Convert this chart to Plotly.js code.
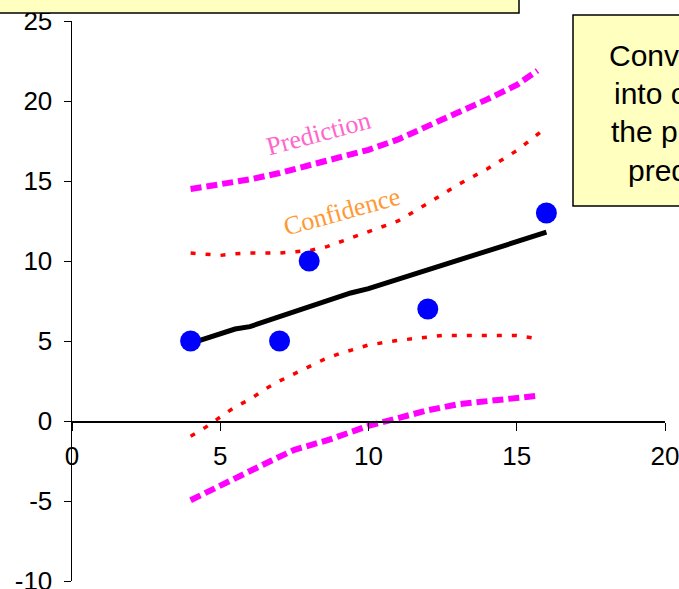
<!DOCTYPE html>
<html>
<head>
<meta charset="utf-8">
<script src="https://cdn.plot.ly/plotly-3.0.1.min.js"></script>
<style>html,body{margin:0;padding:0;background:#fff;}#chart{width:679px;height:589px;}</style>
</head>
<body>
<div id="chart"></div>
<script>
// ---- data ----
const pointX = [4, 7, 8, 12, 16];
const pointY = [5, 5, 10, 7, 13];

const fitX = [4, 5.5, 6, 9.4, 10, 14, 14.5, 16];
const fitY = [4.85, 5.75, 5.9, 8.0, 8.27, 10.65, 10.92, 11.8];

const confUpperX = [4, 5, 5.5, 6, 7, 8, 8.6, 9.5, 10, 11, 12, 13, 14, 15, 15.9];
const confUpperY = [10.5, 10.35, 10.45, 10.5, 10.5, 10.65, 10.9, 11.5, 11.8, 12.5, 13.6, 14.75, 15.75, 16.9, 18.2];

const confLowerX = [4, 4.5, 5, 5.5, 6, 6.5, 7, 7.5, 8, 8.5, 9, 9.5, 10, 11, 12, 12.5, 15, 15.6];
const confLowerY = [-0.95, -0.4, 0.25, 0.88, 1.35, 1.98, 2.5, 2.96, 3.44, 3.85, 4.2, 4.48, 4.75, 5.04, 5.27, 5.35, 5.35, 5.17];

const predUpperX = [4, 5, 6, 7, 8, 9, 10, 11, 12, 13, 14, 15, 15.7];
const predUpperY = [14.5, 14.8, 15.1, 15.5, 16.0, 16.45, 16.95, 17.6, 18.4, 19.3, 20.1, 21.0, 21.9];

const predLowerX = [4, 5.5, 6.7, 7.5, 8.7, 10, 11, 12, 13, 14.5, 15, 15.7];
const predLowerY = [-4.95, -3.55, -2.5, -1.8, -1.15, -0.3, 0.2, 0.67, 1.04, 1.35, 1.5, 1.58];

const xTickVals = [0, 5, 10, 15, 20];
const yTickVals = [-10, -5, 0, 5, 10, 15, 20, 25];

const bandLabels = ["Prediction", "Confidence"];
const noteLines = ["Converting the width", "into confidence for", "the prediction of the", "predicted values"];
// ----------------------------------------------

const W = 679, H = 589;
const M = {l: 72, r: 14, t: 21, b: 8};
const PW = W - M.l - M.r, PH = H - M.t - M.b;
const px = v => (v - M.l) / PW;
const py = v => (H - M.b - v) / PH;

const sansFont = "Arial, 'Liberation Sans', sans-serif";
const serifFont = "'Times New Roman', 'Liberation Serif', serif";

const traces = [
  {x: predUpperX, y: predUpperY, mode: 'lines', line: {color: '#FF00FF', width: 6, dash: '11px,5px'}, hoverinfo: 'skip'},
  {x: predLowerX, y: predLowerY, mode: 'lines', line: {color: '#FF00FF', width: 6, dash: '11px,5px'}, hoverinfo: 'skip'},
  {x: confUpperX, y: confUpperY, mode: 'lines', line: {color: '#FF0000', width: 3.5, dash: '5px,10px'}, hoverinfo: 'skip'},
  {x: confLowerX, y: confLowerY, mode: 'lines', line: {color: '#FF0000', width: 3.5, dash: '5px,10px'}, hoverinfo: 'skip'},
  {x: fitX, y: fitY, mode: 'lines', line: {color: '#000000', width: 5}, hoverinfo: 'skip'},
  {x: pointX, y: pointY, mode: 'markers', marker: {color: '#0000FF', size: 21, line: {width: 0}}, hoverinfo: 'skip'}
];

const noteX = [607, 612, 609, 626];
const noteY = [55, 94, 132, 170];
const annotations = [
  {x: 8.3, y: 18.0, xref: 'x', yref: 'y', text: bandLabels[0], showarrow: false, textangle: -15,
   font: {family: serifFont, size: 26, color: '#FF66CC'}},
  {x: 9.12, y: 13.1, xref: 'x', yref: 'y', text: bandLabels[1], showarrow: false, textangle: -15.5,
   font: {family: serifFont, size: 26, color: '#FF9933'}}
];
noteLines.forEach((t, i) => {
  annotations.push({x: px(noteX[i]), y: py(noteY[i]), xref: 'paper', yref: 'paper', xanchor: 'left', yanchor: 'middle',
    text: t, showarrow: false, font: {family: sansFont, size: 30, color: '#000000'}});
});

const shapes = [
  {type: 'rect', xref: 'paper', yref: 'paper', x0: px(-20), x1: px(519), y0: py(13), y1: py(-30),
   fillcolor: '#FFFFC0', line: {color: '#000000', width: 1.5}, layer: 'above'},
  {type: 'rect', xref: 'paper', yref: 'paper', x0: px(573), x1: px(760), y0: py(206), y1: py(15),
   fillcolor: '#FFFFC0', line: {color: '#000000', width: 1.5}, layer: 'below'}
];

const tickFont = {family: sansFont, size: 26, color: '#000'};

const layout = {
  width: W, height: H,
  margin: {l: M.l, r: M.r, t: M.t, b: M.b, pad: 0},
  paper_bgcolor: '#FFFFFF', plot_bgcolor: 'rgba(0,0,0,0)',
  showlegend: false,
  xaxis: {
    range: [0, 20], anchor: 'free', position: 10 / 35,
    tickvals: xTickVals, ticktext: xTickVals.map(String),
    ticks: 'outside', ticklen: 8, tickwidth: 1, tickcolor: '#000',
    showline: true, linecolor: '#000', linewidth: 1.5,
    showgrid: false, zeroline: false,
    ticklabeloverflow: 'allow', ticklabelstandoff: 3,
    tickfont: tickFont
  },
  yaxis: {
    range: [-10, 25],
    tickvals: yTickVals, ticktext: yTickVals.map(String),
    ticks: 'outside', ticklen: 7, tickwidth: 1, tickcolor: '#000',
    showline: true, linecolor: '#000', linewidth: 1.5,
    showgrid: false, zeroline: false,
    ticklabeloverflow: 'allow', ticklabelstandoff: 6,
    tickfont: tickFont
  },
  shapes: shapes,
  annotations: annotations
};

Plotly.newPlot('chart', traces, layout, {staticPlot: true, displayModeBar: false});
</script>
</body>
</html>
